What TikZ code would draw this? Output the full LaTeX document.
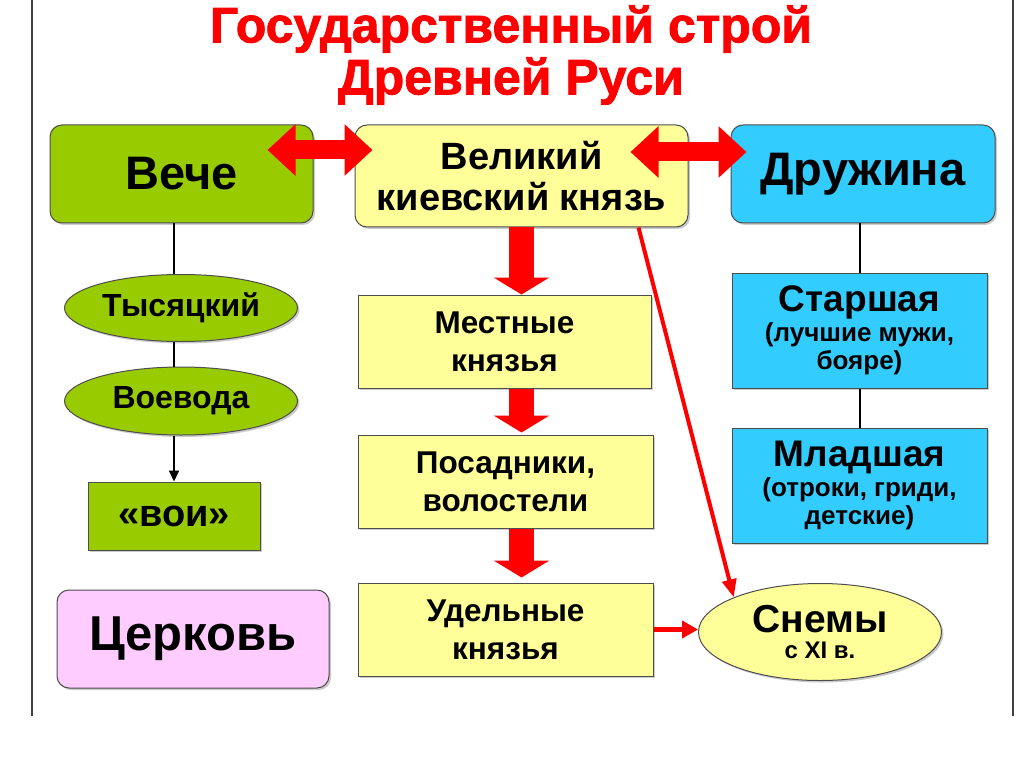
\documentclass[tikz,border=0pt]{standalone}
\usepackage{fontspec}
\setmainfont{Liberation Sans}
\newfontfamily\titlefont{Liberation Sans}[BoldFeatures={FakeBold=1.6}]
\usepackage{xcolor}
\usetikzlibrary{arrows.meta,positioning,shadows,shapes.geometric}
\definecolor{Veche}{HTML}{99CC00}
\definecolor{Prince}{HTML}{FFFF99}
\definecolor{Guard}{HTML}{33CCFF}
\definecolor{Church}{HTML}{FFCCFF}
\definecolor{Alarm}{HTML}{FF0000}
\definecolor{Edge}{HTML}{4D4D4D}
\newcommand{\sz}[2]{\bfseries\fontsize{#1}{#2}\selectfont}

\begin{document}
\begin{tikzpicture}[x=1pt,y=-1pt,
  box/.style={draw=Edge,line width=1pt,align=center,inner sep=0pt,
              drop shadow={shadow xshift=2pt,shadow yshift=-2pt,fill=black!40,opacity=.5}},
  roundbox/.style={box,rounded corners=12pt},
  oval/.style={box,ellipse},
  link/.style={line width=2pt,draw=black},
  pointer/.style={link,-{Triangle[length=11pt,width=10pt]}},
  bigdown/.style={line width=25pt,draw=Alarm,-{Triangle[length=17pt,width=55pt]}},
  twoway/.style={line width=19pt,draw=Alarm,
                 {Triangle[length=28pt,width=50pt]}-{Triangle[length=28pt,width=50pt]}},
  thinred/.style={line width=4pt,draw=Alarm,-{Triangle[length=18pt,width=14pt]}},
  shortred/.style={line width=5pt,draw=Alarm,-{Triangle[length=16pt,width=17pt]}}
]

  \fill[white] (0,0) rectangle (1024,767);
  \useasboundingbox (0,0) rectangle (1024,767);
  \draw[line width=1.5pt,black!75] (32,0) -- (32,716);
  \draw[line width=1.5pt,black!75] (1013,0) -- (1013,716);

  % title
  \node[align=center,text=Alarm,font=\titlefont\sz{50}{52}] (title) at (511,55)
    {Государственный строй\\Древней Руси};

  % top row
  \node[roundbox,fill=Veche,minimum width=263pt,minimum height=98pt,font=\sz{47}{50}]
    (veche) at (181.5,174) {Вече};
  \node[roundbox,fill=Prince,minimum width=333pt,minimum height=102pt,font=\sz{38}{41}]
    (prince) at (521.5,176) {Великий\\киевский князь};
  \node[roundbox,fill=Guard,minimum width=264pt,minimum height=98pt,font=\sz{47}{50}]
    (druzh) at (863,174) {Дружина};

  % left column
  \node[oval,fill=Veche,minimum width=233pt,minimum height=67pt,font=\sz{32}{34}]
    (tys) at (181,308) {Тысяцкий};
  \node[oval,fill=Veche,minimum width=233pt,minimum height=68pt,font=\sz{32}{34}]
    (voev) at (181,401) {Воевода};
  \node[box,fill=Veche,minimum width=172pt,minimum height=68pt,font=\sz{38}{42}]
    (voi) at (174,516) {«вои»};
  \node[roundbox,fill=Church,minimum width=272pt,minimum height=98pt,font=\sz{49}{52}]
    (church) at (193,639) {Церковь};

  % middle column
  \node[box,fill=Prince,minimum width=293pt,minimum height=93pt,font=\sz{31.5}{38}]
    (mest) at (504.5,341.5) {Местные\\князья};
  \node[box,fill=Prince,minimum width=295pt,minimum height=93pt,font=\sz{31.5}{38}]
    (posad) at (505.5,481.5) {Посадники,\\волостели};
  \node[box,fill=Prince,minimum width=295pt,minimum height=93pt,font=\sz{31.5}{38}]
    (udel) at (505.5,629.5) {Удельные\\князья};

  % right column
  \node[box,fill=Guard,minimum width=255pt,minimum height=115pt,font=\sz{26}{28}]
    (star) at (859.5,330.5) {{\sz{37}{40}Старшая}\\[2pt](лучшие мужи,\\бояре)};
  \node[box,fill=Guard,minimum width=255pt,minimum height=115pt,font=\sz{26}{28}]
    (junior) at (859.5,485.5) {{\sz{37}{40}Младшая}\\[2pt](отроки, гриди,\\детские)};
  \node[oval,fill=Prince,minimum width=243pt,minimum height=97pt,font=\sz{24}{26}]
    (snem) at (820,632) {{\sz{39}{42}Снемы}\\[0pt]с XI в.};

  % connectors
  \draw[link] (veche.south -| voi.north) -- (tys.north -| voi.north);
  \draw[link] (tys.south -| voi.north) -- (voev.north -| voi.north);
  \draw[pointer] (voev.south -| voi.north) -- (voi.north);
  \draw[link] (druzh.south -| star.north) -- (star.north);
  \draw[link] (star.south) -- (junior.north);

  \draw[bigdown] (prince.south) -- (prince.south |- mest.north);
  \draw[bigdown] (mest.south -| prince.south) -- ([yshift=2]posad.north -| prince.south);
  \draw[bigdown] (posad.south -| prince.south) -- ([yshift=5]udel.north -| prince.south);

  \draw[twoway] ([shift={(-46,-24)}]veche.east) -- ([shift={(18,-26)}]prince.west);
  \draw[twoway] ([shift={(-58,-24)}]prince.east) -- ([shift={(16,-22)}]druzh.west);

  \draw[thinred] ([xshift=-50]prince.south east) -- (snem.north west);
  \draw[shortred] (udel.east) -- (udel.east -| snem.west);

\end{tikzpicture}
\end{document}
